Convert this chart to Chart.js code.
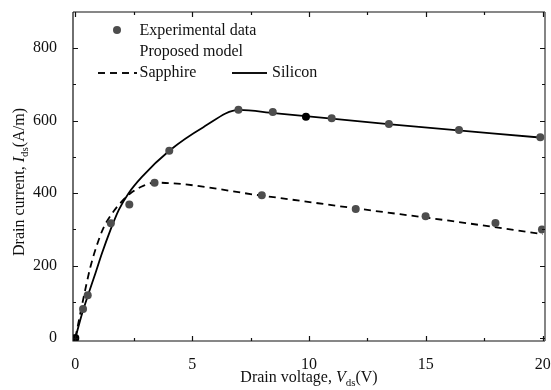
<!DOCTYPE html>
<html>
<head>
<meta charset="utf-8">
<script src="https://cdn.jsdelivr.net/npm/chart.js@4.4.0/dist/chart.umd.min.js"></script>
<style>
  body { margin: 0; background: #fff; }
  #wrap { width: 551px; height: 390px; }
</style>
</head>
<body>
<div id="wrap"><canvas id="mycanvas" width="551" height="390"></canvas></div>
<script>
// measured points (drain voltage V, drain current A/m)
const expVds = [0, 0.33, 0.53, 1.52, 2.31, 3.39, 4.02, 6.98, 7.98, 8.45, 9.87, 10.97, 12.0, 13.42, 14.99, 16.42, 17.98, 19.9, 19.97];
const expIds = [0, 80, 118, 317, 369, 429, 517, 630, 394, 624, 611, 607, 356, 591, 336, 574, 318, 554, 300];
const expDark = [true, false, false, false, false, false, false, false, false, false, true, false, false, false, false, false, false, false, false];

// proposed model curves
const siliconVds = [0, 0.29, 0.57, 0.86, 1.14, 1.5, 1.86, 2.28, 2.85, 4.02, 5.48, 7, 8.5, 13.5, 20];
const siliconIds = [0, 68, 124, 179, 234, 298, 354, 400, 445, 517, 582, 630, 621, 590, 553];
const sapphireVds = [0, 0.36, 0.64, 0.93, 1.21, 1.64, 2.0, 2.43, 2.93, 3.4, 8, 12, 16, 20];
const sapphireIds = [0, 114, 195, 258, 305, 350, 378, 403, 421, 429, 393, 358, 324, 287];

const xTicks = [0, 5, 10, 15, 20];
const xMinor = [2.5, 7.5, 12.5, 17.5];
const yTicks = [0, 200, 400, 600, 800];
const yMinor = [100, 300, 500, 700];

const serif = '"Liberation Serif", "Times New Roman", serif';

function pts(xs, ys) {
    return xs.map((x, i) => ({ x: x, y: ys[i] }));
}

// draws a run of text pieces, each with its own font and vertical shift
function drawRuns(ctx, runs, x, y) {
    let total = 0;
    runs.forEach(r => { ctx.font = r.font; total += ctx.measureText(r.text).width; });
    let cx = x - total / 2;
    runs.forEach(r => {
        ctx.font = r.font;
        ctx.fillText(r.text, cx, y + (r.dy || 0));
        cx += ctx.measureText(r.text).width;
    });
}

// no extra room for overflowing tick labels, the frame is placed by hand
function noPad(s) {
    s.paddingTop = 0; s.paddingBottom = 0;
    s.paddingLeft = 0; s.paddingRight = 0;
}

const framePlugin = {
    id: 'frame',
    afterDraw(chart) {
        const ctx = chart.ctx;
        const a = chart.chartArea;
        const xs = chart.scales.x, ys = chart.scales.y;
        ctx.save();

        // frame
        ctx.lineWidth = 1.2;
        ctx.strokeStyle = '#111';
        ctx.beginPath();
        ctx.moveTo(a.left, a.top); ctx.lineTo(a.left, a.bottom); ctx.lineTo(a.right, a.bottom);
        ctx.moveTo(a.left, a.top); ctx.lineTo(a.right, a.top);
        ctx.stroke();
        ctx.strokeStyle = '#666';
        ctx.lineWidth = 1.6;
        ctx.beginPath();
        ctx.moveTo(a.right, a.top); ctx.lineTo(a.right, a.bottom);
        ctx.stroke();

        // inward ticks on all four sides
        ctx.strokeStyle = '#111';
        ctx.lineWidth = 1.2;
        ctx.beginPath();
        const tickX = (v, len) => {
            const p = Math.round(xs.getPixelForValue(v)) + 0.5;
            ctx.moveTo(p, a.bottom); ctx.lineTo(p, a.bottom - len);
            ctx.moveTo(p, a.top); ctx.lineTo(p, a.top + len);
        };
        const tickY = (v, len) => {
            const p = Math.round(ys.getPixelForValue(v)) + 0.5;
            ctx.moveTo(a.left, p); ctx.lineTo(a.left + len, p);
            ctx.moveTo(a.right, p); ctx.lineTo(a.right - len, p);
        };
        xTicks.forEach(v => tickX(v, 5));
        xMinor.forEach(v => tickX(v, 3));
        yTicks.forEach(v => tickY(v, 5));
        yMinor.forEach(v => tickY(v, 3));
        ctx.stroke();

        // axis titles
        ctx.fillStyle = '#111';
        ctx.textBaseline = 'middle';
        ctx.textAlign = 'left';
        drawRuns(ctx, [
            { text: 'Drain voltage, ', font: '16px ' + serif },
            { text: 'V', font: 'italic 16px ' + serif },
            { text: 'ds', font: '11px ' + serif, dy: 5 },
            { text: '(V)', font: '16px ' + serif }
        ], (a.left + a.right) / 2, 378);

        ctx.save();
        ctx.translate(20, 182);
        ctx.rotate(-Math.PI / 2);
        drawRuns(ctx, [
            { text: 'Drain current, ', font: '16px ' + serif },
            { text: 'I', font: 'italic 16px ' + serif },
            { text: 'ds', font: '11px ' + serif, dy: 5 },
            { text: '(A/m)', font: '16px ' + serif }
        ], 0, 0);
        ctx.restore();

        // legend block
        ctx.font = '16px ' + serif;
        ctx.fillStyle = '#4d4d4d';
        ctx.beginPath();
        ctx.arc(117, 30, 4, 0, Math.PI * 2);
        ctx.fill();
        ctx.fillStyle = '#111';
        ctx.fillText('Experimental data', 139.5, 31);
        ctx.fillText('Proposed model', 139.5, 52);
        ctx.fillText('Sapphire', 139.5, 73);
        ctx.fillText('Silicon', 272, 73);
        ctx.lineWidth = 1.8;
        ctx.beginPath();
        ctx.setLineDash([7, 5]);
        ctx.moveTo(98, 73); ctx.lineTo(137, 73);
        ctx.stroke();
        ctx.setLineDash([]);
        ctx.beginPath();
        ctx.moveTo(232, 73); ctx.lineTo(267, 73);
        ctx.stroke();

        ctx.restore();
    }
};

let ctx = document.getElementById('mycanvas').getContext('2d');

new Chart(ctx, {
    type: 'scatter',
    data: {
        datasets: [
            {
                label: 'Experimental data',
                data: pts(expVds, expIds),
                backgroundColor: expDark.map(d => d ? '#000' : '#4d4d4d'),
                borderColor: expDark.map(d => d ? '#000' : '#4d4d4d'),
                pointRadius: 4,
                pointBorderWidth: 0,
                showLine: false
            },
            {
                label: 'Silicon',
                data: pts(siliconVds, siliconIds),
                showLine: true,
                borderColor: '#000',
                borderWidth: 1.8,
                pointRadius: 0,
                cubicInterpolationMode: 'monotone'
            },
            {
                label: 'Sapphire',
                data: pts(sapphireVds, sapphireIds),
                showLine: true,
                borderColor: '#000',
                borderWidth: 1.8,
                borderDash: [7, 5],
                pointRadius: 0,
                cubicInterpolationMode: 'monotone'
            }
        ]
    },
    options: {
        responsive: false,
        animation: false,
        layout: { padding: { top: 12, right: 6, left: 0, bottom: 0 } },
        plugins: { legend: { display: false }, tooltip: { enabled: false } },
        scales: {
            x: {
                type: 'linear',
                min: -0.1,
                max: 20.1,
                grid: { display: false },
                border: { display: false },
                afterBuildTicks: s => { s.ticks = xTicks.map(v => ({ value: v })); },
                afterFit: s => { s.height = 49; noPad(s); },
                ticks: {
                    padding: 6,
                    color: '#111',
                    maxRotation: 0,
                    font: { family: serif, size: 16 }
                }
            },
            y: {
                min: -8,
                max: 900,
                grid: { display: false },
                border: { display: false },
                afterBuildTicks: s => { s.ticks = yTicks.map(v => ({ value: v })); },
                afterFit: s => { s.width = 73; noPad(s); },
                ticks: {
                    padding: 8,
                    color: '#111',
                    font: { family: serif, size: 16 }
                }
            }
        }
    },
    plugins: [framePlugin]
});
</script>
</body>
</html>
